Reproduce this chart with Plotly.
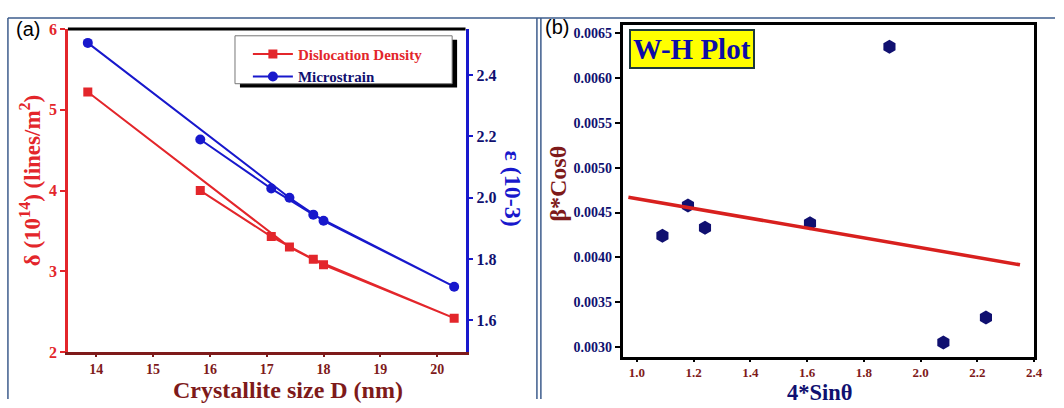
import plotly.graph_objects as go

W, H = 1064, 408
def px(x):
    return x / W
def py(y):
    return 1 - y / H

# ---------------- data ----------------
# Panel (a): points in recorded (unsorted) order
crystallite_size = [15.83, 17.08, 17.82, 20.30, 18.00, 17.40, 13.85]
dislocation_density = [4.00, 3.43, 3.15, 2.42, 3.08, 3.30, 5.22]
microstrain = [2.19, 2.03, 1.945, 1.71, 1.925, 2.00, 2.505]
x_ticks_a = [14, 15, 16, 17, 18, 19, 20]
y_ticks_a = [2, 3, 4, 5, 6]
y2_ticks_a = [1.6, 1.8, 2.0, 2.2, 2.4]

# Panel (b): W-H plot
four_sin_theta = [1.09, 1.18, 1.24, 1.61, 1.89, 2.08, 2.23]
beta_cos_theta = [0.00424, 0.00458, 0.00433, 0.00438, 0.00635, 0.00305, 0.00333]
fit_x = [0.97, 2.35]
fit_y = [0.004671, 0.003917]
x_ticks_b = [1.0, 1.2, 1.4, 1.6, 1.8, 2.0, 2.2, 2.4]
y_ticks_b = [0.0030, 0.0035, 0.0040, 0.0045, 0.0050, 0.0055, 0.0060, 0.0065]

RED = "#e3262b"
DRED = "#7e1a1a"
BLUE = "#1818cc"
NAVY = "#101070"
SERIF = "Liberation Serif"

fig = go.Figure()

fig.add_trace(go.Scatter(
    x=crystallite_size, y=dislocation_density, mode="lines+markers",
    name="<b><span style='color:%s'>Dislocation Density</span></b>" % RED,
    line=dict(color=RED, width=2), marker=dict(symbol="square", size=9, color=RED),
    xaxis="x", yaxis="y"))
fig.add_trace(go.Scatter(
    x=crystallite_size, y=microstrain, mode="lines+markers",
    name="<b><span style='color:%s'>Microstrain</span></b>" % NAVY,
    line=dict(color=BLUE, width=2), marker=dict(symbol="circle", size=10, color=BLUE),
    xaxis="x", yaxis="y2"))

fig.add_trace(go.Scatter(
    x=four_sin_theta, y=beta_cos_theta, mode="markers", showlegend=False,
    marker=dict(symbol="hexagon", size=14, color=NAVY),
    xaxis="x2", yaxis="y3"))
fig.add_trace(go.Scatter(
    x=fit_x, y=fit_y, mode="lines", showlegend=False,
    line=dict(color="#d8201e", width=3.5),
    xaxis="x2", yaxis="y3"))

tick_a = dict(family=SERIF, size=16, weight="bold")

fig.update_layout(
    width=W, height=H, margin=dict(l=0, r=0, t=0, b=0),
    paper_bgcolor="white", plot_bgcolor="white",
    showlegend=True,
    legend=dict(x=px(250), y=py(31), xanchor="left", yanchor="top",
                bgcolor="rgba(0,0,0,0)", borderwidth=0,
                font=dict(family=SERIF, size=15), tracegroupgap=0,
                itemwidth=40),
    xaxis=dict(domain=[px(68.5), px(469.5)], range=[13.5, 20.5], tickvals=x_ticks_a,
               showline=True, linecolor=DRED, linewidth=2.5, ticks="outside",
               tickcolor=DRED, tickwidth=2, ticklen=2, showgrid=False, zeroline=False,
               tickfont=dict(family=SERIF, size=14, weight="bold", color=DRED),
               anchor="y"),
    yaxis=dict(domain=[py(359), py(22)], range=[2, 6], tickvals=y_ticks_a,
               showline=True, linecolor=RED, linewidth=2.5, ticks="outside",
               tickcolor=RED, tickwidth=2, ticklen=5, showgrid=False, zeroline=False,
               tickfont=dict(tick_a, color=RED), anchor="x"),
    yaxis2=dict(overlaying="y", side="right", range=[1.497, 2.55], tickvals=y2_ticks_a,
                tickformat=".1f", showline=True, linecolor=BLUE, linewidth=2.5,
                ticks="outside", tickcolor=BLUE, tickwidth=2, ticklen=5,
                showgrid=False, zeroline=False, tickfont=dict(tick_a, color=NAVY),
                anchor="x"),
    xaxis2=dict(domain=[px(628), px(1043)], range=[0.95, 2.40], tickvals=x_ticks_b,
                tickformat=".1f", showline=True, mirror=True, linecolor="black",
                linewidth=3, ticks="outside", tickcolor="black", tickwidth=2, ticklen=2,
                showgrid=False, zeroline=False,
                tickfont=dict(family=SERIF, size=13, weight="bold", color=DRED),
                anchor="y3"),
    yaxis3=dict(domain=[py(364), py(18)], range=[0.00289, 0.00659], tickvals=y_ticks_b,
                tickformat=".4f", showline=True, mirror=True, linecolor="black",
                linewidth=3, ticks="outside", tickcolor="black", tickwidth=2, ticklen=5,
                showgrid=False, zeroline=False,
                tickfont=dict(family=SERIF, size=14, weight="bold", color=NAVY),
                anchor="x2"),
)

shapes = []
# outer panel frames
FR = "#3d5c8c"
shapes.append(dict(type="line", xref="paper", yref="paper", x0=px(8), x1=px(1064),
                   y0=py(10.5), y1=py(10.5), line=dict(color=FR, width=1.5)))
for xx in (8, 541.5, 545.5):
    shapes.append(dict(type="line", xref="paper", yref="paper", x0=px(xx), x1=px(xx),
                       y0=py(10.5), y1=0, line=dict(color=FR, width=1.5)))
# top black border of panel (a)
shapes.append(dict(type="line", xref="paper", yref="paper", x0=px(68.5), x1=px(469.5),
                   y0=py(22), y1=py(22), line=dict(color="black", width=3)))
# legend shadow + box
shapes.append(dict(type="rect", xref="paper", yref="paper", x0=px(242), x1=px(461),
                   y0=py(83), y1=py(33), fillcolor="black", line=dict(width=0)))
shapes.append(dict(type="rect", xref="paper", yref="paper", x0=px(237), x1=px(456),
                   y0=py(79), y1=py(29), fillcolor="white",
                   line=dict(color="#777777", width=1)))
fig.update_layout(shapes=shapes)

def note(text, x, y, size, color, family=SERIF, angle=0, **kw):
    d = dict(text=text, x=px(x), y=py(y), xref="paper", yref="paper",
             xanchor="center", yanchor="middle", showarrow=False, textangle=angle,
             font=dict(family=family, size=size, color=color))
    d.update(kw)
    return d

ann = [
    note("(a)", 28, 22, 20, "black", family="Liberation Sans"),
    note("(b)", 562, 20, 20, "black", family="Liberation Sans"),
    note("<b>δ (10<sup>14</sup>) (lines/m<sup>2</sup>)</b>", 31, 180, 23, RED, angle=-90),
    note("<b>ε (10-3)</b>", 517, 188, 24, BLUE, angle=90),
    note("<b>Crystallite size D (nm)</b>", 290, 399, 24, DRED),
    note("<b>β*Cosθ</b>", 563, 183, 24, DRED, angle=-90),
    note("<b>4*Sinθ</b>", 827, 401.5, 22.5, NAVY),
    note("<b>W-H Plot</b>", 697.5, 42.5, 29, "#0c0ca8",
         bgcolor="#ffff00", bordercolor="#1e3a3a", borderwidth=2, borderpad=2),
]
fig.update_layout(annotations=ann)

fig.write_html("out.html")
